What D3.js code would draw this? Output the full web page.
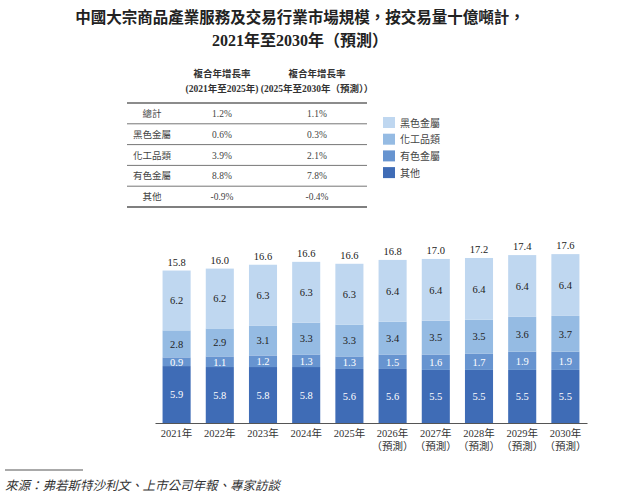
<!DOCTYPE html>
<html>
<head>
<meta charset="utf-8">
<script src="https://cdn.jsdelivr.net/npm/d3@7"></script>
<style>
  body { margin: 0; background: #fff; }
  svg { display: block; }
</style>
</head>
<body>
<svg id="chart" width="640" height="499"></svg>
<script>
// data
var years = ["2021年", "2022年", "2023年", "2024年", "2025年", "2026年", "2027年", "2028年", "2029年", "2030年"];
var forecast = [false, false, false, false, false, true, true, true, true, true];
var other = [5.9, 5.8, 5.8, 5.8, 5.6, 5.6, 5.5, 5.5, 5.5, 5.5];
var nonferrous = [0.9, 1.1, 1.2, 1.3, 1.3, 1.5, 1.6, 1.7, 1.9, 1.9];
var chemical = [2.8, 2.9, 3.1, 3.3, 3.3, 3.4, 3.5, 3.5, 3.6, 3.7];
var ferrous = [6.2, 6.2, 6.3, 6.3, 6.3, 6.4, 6.4, 6.4, 6.4, 6.4];
var totals = [15.8, 16.0, 16.6, 16.6, 16.6, 16.8, 17.0, 17.2, 17.4, 17.6];

var tableRows = ["總計", "黑色金屬", "化工品類", "有色金屬", "其他"];
var cagr1 = ["1.2%", "0.6%", "3.9%", "8.8%", "-0.9%"];
var cagr2 = ["1.1%", "0.3%", "2.1%", "7.8%", "-0.4%"];

var seriesNames = ["其他", "有色金屬", "化工品類", "黑色金屬"];
var legendNames = ["黑色金屬", "化工品類", "有色金屬", "其他"];
var colors = {"其他": "#3f6cb6", "有色金屬": "#6794d0", "化工品類": "#95bbe3", "黑色金屬": "#bfd7f0"};
var textColors = {"其他": "#fff", "有色金屬": "#fff", "化工品類": "#222", "黑色金屬": "#222"};

var serif = "'Liberation Serif', 'Times New Roman', 'Noto Sans CJK TC', serif";
var sans = "'Noto Sans CJK TC', 'Noto Sans', sans-serif";

var svg = d3.select("#chart");

// title
svg.append("text")
    .attr("x", 300).attr("y", 23)
    .attr("text-anchor", "middle")
    .attr("font-family", sans).attr("font-weight", "bold")
    .attr("font-size", 15.5).attr("fill", "#222")
    .text("中國大宗商品產業服務及交易行業市場規模，按交易量十億噸計，");
svg.append("text")
    .attr("x", 300).attr("y", 46)
    .attr("text-anchor", "middle")
    .attr("font-family", serif).attr("font-weight", "bold")
    .attr("font-size", 16).attr("fill", "#222")
    .text("2021年至2030年（預測）");

// CAGR table
var colX = [152, 222, 317];
var rowY = d3.scaleBand().domain(tableRows).range([103, 207]);

var headers = [["複合年增長率", "(2021年至2025年)"], ["複合年增長率", "(2025年至2030年（預測））"]];
headers.forEach(function(h, i){
    h.forEach(function(t, j){
        svg.append("text")
            .attr("x", colX[i + 1]).attr("y", 77 + j * 15)
            .attr("text-anchor", "middle")
            .attr("font-family", serif).attr("font-weight", "bold")
            .attr("font-size", 9.5).attr("fill", "#333")
            .text(t);
    });
});

var table = svg.append("g");
table.selectAll("line.row")
    .data(tableRows)
    .enter().append("line")
    .attr("x1", 127).attr("x2", 367)
    .attr("y1", function(d){ return rowY(d); })
    .attr("y2", function(d){ return rowY(d); })
    .attr("stroke", "#666")
    .attr("stroke-width", function(d, i){ return i == 0 ? 1.4 : 0.9; });
table.append("line")
    .attr("x1", 127).attr("x2", 367)
    .attr("y1", 207).attr("y2", 207)
    .attr("stroke", "#555").attr("stroke-width", 1.4);

tableRows.forEach(function(r, i){
    var cy = rowY(r) + rowY.bandwidth() / 2 + 3.5;
    [r, cagr1[i], cagr2[i]].forEach(function(t, j){
        svg.append("text")
            .attr("x", colX[j]).attr("y", cy)
            .attr("text-anchor", "middle")
            .attr("font-family", serif)
            .attr("font-size", 9.5).attr("fill", "#444")
            .text(t);
    });
});

// legend
var legend = svg.append("g").attr("transform", "translate(383,117)");
legend.selectAll("rect")
    .data(legendNames)
    .enter().append("rect")
    .attr("x", 0).attr("y", function(d, i){ return i * 16.7; })
    .attr("width", 12).attr("height", 11)
    .attr("fill", function(d){ return colors[d]; });
legend.selectAll("text")
    .data(legendNames)
    .enter().append("text")
    .attr("x", 17).attr("y", function(d, i){ return i * 16.7 + 9.5; })
    .attr("font-family", serif)
    .attr("font-size", 10).attr("fill", "#444")
    .text(function(d){ return d; });

// bar chart
var xScale = d3.scaleBand().domain(years).range([155, 587]).paddingInner(0.35).paddingOuter(0.175);
var yScale = d3.scaleLinear().domain([0, 20]).range([423, 423 - 193]);

var rows = years.map(function(y, i){
    return {year: y, "其他": other[i], "有色金屬": nonferrous[i], "化工品類": chemical[i], "黑色金屬": ferrous[i]};
});
var stacked = d3.stack().keys(seriesNames)(rows);

var layers = svg.selectAll("g.layer")
    .data(stacked)
    .enter().append("g")
    .attr("class", "layer")
    .attr("fill", function(d){ return colors[d.key]; });

layers.selectAll("rect")
    .data(function(d){ return d; })
    .enter().append("rect")
    .attr("x", function(d){ return xScale(d.data.year); })
    .attr("y", function(d){ return yScale(d[1]); })
    .attr("width", xScale.bandwidth())
    .attr("height", function(d){ return yScale(d[0]) - yScale(d[1]); });

stacked.forEach(function(layer){
    svg.append("g").selectAll("text")
        .data(layer)
        .enter().append("text")
        .attr("x", function(d){ return xScale(d.data.year) + xScale.bandwidth() / 2; })
        .attr("y", function(d){ return (yScale(d[0]) + yScale(d[1])) / 2 + 3.8; })
        .attr("text-anchor", "middle")
        .attr("font-family", serif)
        .attr("font-size", 10.5)
        .attr("fill", textColors[layer.key])
        .text(function(d){ return (d[1] - d[0]).toFixed(1); });
});

// totals
svg.append("g").selectAll("text")
    .data(years)
    .enter().append("text")
    .attr("x", function(d){ return xScale(d) + xScale.bandwidth() / 2; })
    .attr("y", function(d, i){ return yScale(stacked[3][i][1]) - 5; })
    .attr("text-anchor", "middle")
    .attr("font-family", serif)
    .attr("font-size", 10.5).attr("fill", "#222")
    .text(function(d, i){ return totals[i].toFixed(1); });

// x axis
var xAxis = svg.append("g")
    .attr("transform", "translate(0,423)")
    .call(d3.axisBottom(xScale).tickSize(0).tickPadding(0).tickFormat(""));
xAxis.select(".domain").attr("stroke", "#555").attr("stroke-width", 1.2);

svg.append("g").selectAll("text")
    .data(years)
    .enter().append("text")
    .attr("x", function(d){ return xScale(d) + xScale.bandwidth() / 2; })
    .attr("y", 437)
    .attr("text-anchor", "middle")
    .attr("font-family", serif)
    .attr("font-size", 10.5).attr("fill", "#333")
    .each(function(d, i){
        var t = d3.select(this);
        t.append("tspan").attr("x", xScale(d) + xScale.bandwidth() / 2).text(d);
        if (forecast[i]) {
            t.append("tspan").attr("x", xScale(d) + xScale.bandwidth() / 2).attr("dy", 13).text("（預測）");
        }
    });

// source
svg.append("line")
    .attr("x1", 5).attr("x2", 83).attr("y1", 470).attr("y2", 470)
    .attr("stroke", "#555").attr("stroke-width", 1);
svg.append("text")
    .attr("x", 5).attr("y", 490)
    .attr("font-family", serif).attr("font-style", "italic")
    .attr("font-size", 12.5).attr("fill", "#333")
    .text("來源：弗若斯特沙利文、上市公司年報、專家訪談");
</script>
</body>
</html>
